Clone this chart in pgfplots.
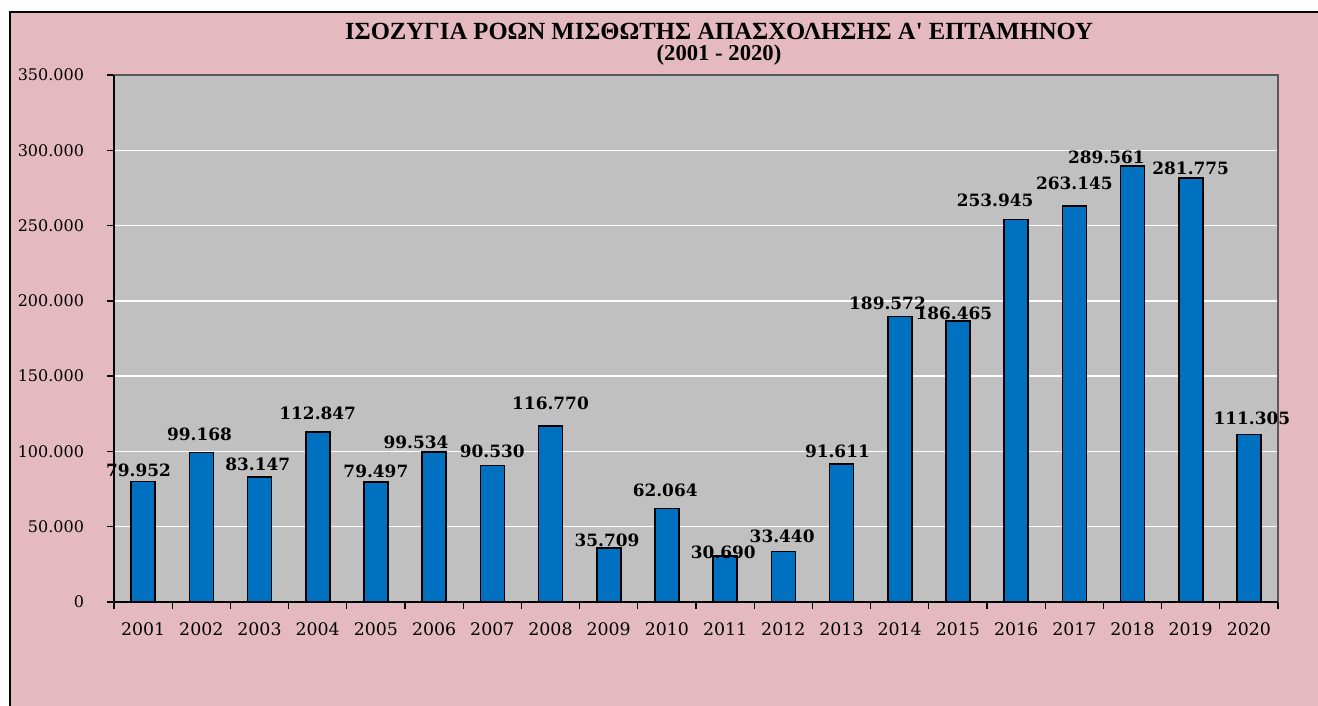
\documentclass[border=0pt]{standalone}
\usepackage{fontspec}
\setmainfont{DejaVu Serif}
\newfontfamily\titlefont{Liberation Serif}
\usepackage{pgfplots}
\usepackage{pgfplotstable}
\pgfplotsset{compat=1.18}
\definecolor{pinkbg}{RGB}{228,186,192}
\definecolor{plotgray}{RGB}{192,192,192}
\definecolor{barblue}{RGB}{0,112,192}

\pgfplotstableread{
x y
0 79952
1 99168
2 83147
3 112847
4 79497
5 99534
6 90530
7 116770
8 35709
9 62064
10 30690
11 33440
12 91611
13 189572
14 186465
15 253945
16 263145
17 289561
18 281775
19 111305
}\bardata

\pgfplotstableread{
x y label
-0.08 87666 79.952
0.97 111575 99.168
1.97 91651 83.147
3.00 125522 112.847
4.00 87002 79.497
4.69 106262 99.534
6.00 100285 90.530
7.00 132163 116.770
7.97 41176 35.709
8.97 74383 62.064
9.97 33207 30.690
10.98 43833 33.440
11.93 100285 91.611
12.79 198577 189.572
13.93 191935 186.465
14.64 266983 253.945
16.00 278273 263.145
16.55 295541 289.561
18.00 288235 281.775
19.05 122201 111.305
}\labeldata

\begin{document}
\begin{tikzpicture}
\fill[white] (0,0) rectangle (988.5pt,529.5pt);
\fill[pinkbg] (7.5pt,0) rectangle (988.5pt,520.5pt);
\draw[black, line width=1.5pt] (7.5pt,0) -- (7.5pt,520.5pt) -- (988.5pt,520.5pt);
\node[font=\titlefont\bfseries\fontsize{18.5}{20}\selectfont] at (539.25pt,506.25pt) {ΙΣΟΖΥΓΙΑ ΡΟΩΝ ΜΙΣΘΩΤΗΣ ΑΠΑΣΧΟΛΗΣΗΣ Α' ΕΠΤΑΜΗΝΟΥ};
\node[font=\titlefont\bfseries\fontsize{17}{18}\selectfont] at (539.25pt,488.5pt) {(2001 - 2020)};
\begin{axis}[
  at={(85.5pt,78pt)}, anchor=south west,
  scale only axis, width=873pt, height=395.25pt,
  xmin=-0.5, xmax=19.5, ymin=0, ymax=350000,
  axis background/.style={fill=plotgray},
  axis line style={draw=gray!70!black, line width=1pt},
  xtick={0,...,19},
  xticklabels={2001,2002,2003,2004,2005,2006,2007,2008,2009,2010,2011,2012,2013,2014,2015,2016,2017,2018,2019,2020},
  major x tick style={draw=none},
  minor xtick={-0.5,0.5,...,19.5},
  minor x tick style={black, line width=1pt},
  minor tick length=5pt,
  tick align=outside,
  ytick={0,50000,...,350000},
  major tick length=5pt,
  y tick style={black, line width=1pt},
  ymajorgrids, grid style={white, line width=1.1pt},
  xtick pos=bottom, ytick pos=left,
  scaled y ticks=false,
  /pgf/number format/.cd, fixed, 1000 sep={.}, assume math mode=true,
  /pgfplots/.cd,
  yticklabel style={font=\fontsize{12}{14}\selectfont, xshift=-14pt},
  xticklabel style={font=\fontsize{13}{15}\selectfont, yshift=-7pt},
  clip=false,
]
\addplot[ybar, bar width=18pt, fill=barblue, draw=black, line width=1.2pt] table[x=x,y=y] {\bardata};
\addplot[draw=none, mark=none, nodes near coords, point meta=explicit symbolic,
  nodes near coords style={anchor=center, font=\bfseries\fontsize{12.7}{14}\selectfont, inner sep=0pt}]
  table[x=x,y=y,meta=label] {\labeldata};
\draw[black, line width=1.2pt] (rel axis cs:0,0) -- (rel axis cs:0,1);
\draw[black, line width=1.2pt] (rel axis cs:0,0) -- (rel axis cs:1,0);
\end{axis}
\pgfresetboundingbox
\useasboundingbox (0,0) rectangle (988.5pt,529.5pt);
\end{tikzpicture}
\end{document}
